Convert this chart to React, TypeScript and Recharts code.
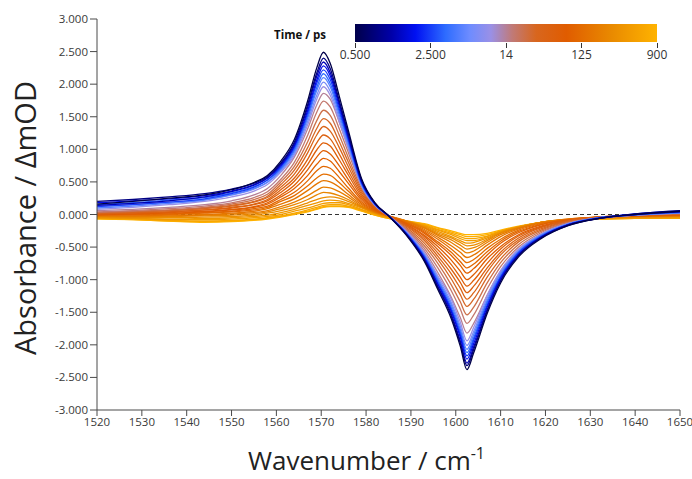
import React from "react";
import { LineChart, Line, XAxis, YAxis, ReferenceLine } from "recharts";

// wavenumber grid, cm-1
const wavenumbers = [
  1520, 1528, 1536, 1544, 1550, 1555, 1558, 1561, 1564, 1567, 1569, 1570.5, 1572, 1574, 1576, 1579, 1582,
  1585, 1589, 1593, 1596, 1599, 1601, 1602.5, 1604, 1607, 1610, 1614, 1619, 1625, 1632, 1640, 1650,
];

// pump-probe delays, ps
const delays = [0.5, 0.8, 1.2, 1.7, 2.5, 3.5, 5, 7, 10, 14, 18, 24, 32, 40, 50, 62, 75, 90, 110, 135, 165, 200, 250, 310, 390, 480, 600, 750, 900];

// difference spectra (mOD), one per delay
const ps0_5 = [0.16, 0.2, 0.25, 0.3, 0.38, 0.49, 0.6, 0.82, 1.15, 1.75, 2.25, 2.49, 2.32, 1.82, 1.3, 0.55, 0.18, -0.02, -0.32, -0.72, -1.15, -1.6, -2.02, -2.38, -2.12, -1.52, -1.05, -0.65, -0.37, -0.17, -0.06, 0.0, 0.05];
const ps0_8 = [0.2, 0.23, 0.27, 0.32, 0.39, 0.48, 0.58, 0.79, 1.11, 1.69, 2.17, 2.4, 2.24, 1.75, 1.25, 0.53, 0.17, -0.02, -0.31, -0.7, -1.12, -1.56, -1.97, -2.32, -2.07, -1.48, -1.02, -0.63, -0.36, -0.17, -0.06, 0.01, 0.06];
const ps1_2 = [0.14, 0.17, 0.21, 0.27, 0.35, 0.45, 0.56, 0.77, 1.08, 1.65, 2.12, 2.34, 2.18, 1.71, 1.22, 0.52, 0.17, -0.02, -0.31, -0.69, -1.1, -1.53, -1.94, -2.28, -2.03, -1.46, -1.01, -0.62, -0.35, -0.16, -0.06, 0.0, 0.04];
const ps1_7 = [0.18, 0.21, 0.24, 0.29, 0.36, 0.46, 0.56, 0.75, 1.05, 1.6, 2.06, 2.28, 2.13, 1.67, 1.19, 0.5, 0.16, -0.02, -0.3, -0.67, -1.07, -1.49, -1.88, -2.22, -1.98, -1.42, -0.98, -0.61, -0.35, -0.16, -0.06, 0.01, 0.05];
const ps2_5 = [0.12, 0.15, 0.19, 0.24, 0.32, 0.42, 0.53, 0.73, 1.03, 1.56, 2.01, 2.22, 2.07, 1.62, 1.16, 0.49, 0.16, -0.02, -0.29, -0.66, -1.05, -1.46, -1.84, -2.17, -1.93, -1.39, -0.96, -0.59, -0.34, -0.16, -0.05, 0.0, 0.04];
const ps3_5 = [0.15, 0.18, 0.22, 0.26, 0.33, 0.43, 0.53, 0.71, 1.0, 1.52, 1.95, 2.16, 2.01, 1.58, 1.13, 0.48, 0.16, -0.02, -0.29, -0.64, -1.02, -1.43, -1.8, -2.12, -1.89, -1.35, -0.94, -0.58, -0.33, -0.15, -0.05, 0.0, 0.03];
const ps5 = [0.1, 0.13, 0.17, 0.22, 0.3, 0.4, 0.5, 0.69, 0.97, 1.48, 1.9, 2.1, 1.96, 1.53, 1.1, 0.46, 0.15, -0.02, -0.28, -0.63, -1.0, -1.39, -1.76, -2.07, -1.84, -1.32, -0.91, -0.57, -0.32, -0.15, -0.05, -0.01, 0.03];
const ps7 = [0.13, 0.15, 0.19, 0.23, 0.3, 0.39, 0.49, 0.67, 0.94, 1.43, 1.83, 2.03, 1.89, 1.48, 1.06, 0.45, 0.15, -0.02, -0.27, -0.61, -0.97, -1.35, -1.71, -2.01, -1.79, -1.28, -0.89, -0.55, -0.31, -0.14, -0.05, 0.0, 0.02];
const ps10 = [0.08, 0.11, 0.15, 0.2, 0.27, 0.36, 0.46, 0.65, 0.91, 1.38, 1.77, 1.96, 1.83, 1.43, 1.02, 0.43, 0.14, -0.02, -0.26, -0.59, -0.94, -1.3, -1.65, -1.94, -1.73, -1.24, -0.86, -0.53, -0.3, -0.14, -0.05, -0.01, 0.02];
const ps14 = [0.06, 0.08, 0.11, 0.15, 0.21, 0.3, 0.4, 0.6, 0.88, 1.32, 1.68, 1.86, 1.77, 1.42, 1.03, 0.47, 0.15, -0.02, -0.25, -0.56, -0.89, -1.27, -1.58, -1.82, -1.67, -1.24, -0.87, -0.55, -0.31, -0.15, -0.06, -0.01, 0.02];
const ps18 = [0.04, 0.06, 0.09, 0.13, 0.18, 0.26, 0.35, 0.54, 0.8, 1.22, 1.57, 1.74, 1.65, 1.32, 0.96, 0.44, 0.14, -0.02, -0.23, -0.52, -0.82, -1.17, -1.45, -1.67, -1.54, -1.14, -0.8, -0.5, -0.28, -0.13, -0.05, -0.01, 0.02];
const ps24 = [0.03, 0.05, 0.07, 0.11, 0.16, 0.23, 0.31, 0.5, 0.74, 1.12, 1.44, 1.6, 1.52, 1.22, 0.88, 0.4, 0.13, -0.02, -0.22, -0.48, -0.75, -1.08, -1.34, -1.54, -1.42, -1.05, -0.74, -0.46, -0.26, -0.12, -0.05, -0.01, 0.01];
const ps32 = [0.02, 0.04, 0.06, 0.1, 0.14, 0.2, 0.28, 0.46, 0.68, 1.03, 1.32, 1.47, 1.4, 1.12, 0.81, 0.37, 0.12, -0.02, -0.2, -0.44, -0.69, -0.99, -1.23, -1.41, -1.3, -0.96, -0.68, -0.42, -0.24, -0.11, -0.04, -0.01, 0.01];
const ps40 = [0.03, 0.04, 0.06, 0.09, 0.13, 0.19, 0.26, 0.42, 0.62, 0.95, 1.22, 1.35, 1.28, 1.03, 0.74, 0.34, 0.11, -0.02, -0.18, -0.4, -0.64, -0.91, -1.13, -1.3, -1.2, -0.88, -0.62, -0.39, -0.22, -0.1, -0.04, -0.01, 0.01];
const ps50 = [0.01, 0.02, 0.04, 0.07, 0.11, 0.16, 0.23, 0.38, 0.56, 0.85, 1.1, 1.22, 1.16, 0.93, 0.67, 0.31, 0.1, -0.02, -0.17, -0.37, -0.59, -0.84, -1.04, -1.2, -1.1, -0.82, -0.58, -0.36, -0.2, -0.1, -0.04, -0.01, 0.01];
const ps62 = [0.02, 0.03, 0.04, 0.07, 0.1, 0.15, 0.21, 0.34, 0.51, 0.77, 0.99, 1.1, 1.05, 0.84, 0.61, 0.28, 0.09, -0.02, -0.16, -0.34, -0.54, -0.77, -0.96, -1.1, -1.01, -0.75, -0.53, -0.33, -0.19, -0.09, -0.04, -0.01, 0.0];
const ps75 = [0.0, 0.01, 0.03, 0.05, 0.08, 0.12, 0.18, 0.3, 0.45, 0.69, 0.88, 0.98, 0.93, 0.75, 0.54, 0.25, 0.08, -0.02, -0.15, -0.32, -0.49, -0.7, -0.87, -1.0, -0.92, -0.68, -0.49, -0.31, -0.18, -0.09, -0.04, -0.02, 0.0];
const ps90 = [0.01, 0.01, 0.02, 0.04, 0.07, 0.11, 0.16, 0.27, 0.4, 0.6, 0.77, 0.86, 0.82, 0.66, 0.48, 0.22, 0.07, -0.02, -0.14, -0.29, -0.45, -0.63, -0.78, -0.9, -0.83, -0.62, -0.44, -0.28, -0.16, -0.08, -0.04, -0.02, 0.0];
const ps110 = [-0.01, 0.0, 0.01, 0.03, 0.05, 0.09, 0.13, 0.23, 0.34, 0.52, 0.67, 0.74, 0.71, 0.57, 0.41, 0.19, 0.06, -0.02, -0.13, -0.27, -0.42, -0.58, -0.72, -0.82, -0.76, -0.57, -0.41, -0.26, -0.15, -0.08, -0.04, -0.02, -0.01];
const ps135 = [-0.01, -0.01, 0.0, 0.02, 0.04, 0.07, 0.11, 0.2, 0.29, 0.44, 0.56, 0.62, 0.6, 0.49, 0.36, 0.17, 0.05, -0.02, -0.12, -0.25, -0.38, -0.53, -0.65, -0.74, -0.69, -0.52, -0.38, -0.24, -0.14, -0.08, -0.04, -0.02, -0.01];
const ps165 = [-0.02, -0.02, -0.01, 0.0, 0.02, 0.05, 0.09, 0.16, 0.24, 0.37, 0.47, 0.52, 0.5, 0.42, 0.31, 0.15, 0.04, -0.02, -0.11, -0.23, -0.35, -0.48, -0.58, -0.66, -0.62, -0.47, -0.34, -0.22, -0.13, -0.07, -0.04, -0.03, -0.02];
const ps200 = [-0.02, -0.03, -0.02, -0.01, 0.01, 0.03, 0.06, 0.12, 0.19, 0.29, 0.37, 0.42, 0.41, 0.35, 0.27, 0.13, 0.04, -0.02, -0.1, -0.21, -0.32, -0.43, -0.52, -0.59, -0.56, -0.43, -0.31, -0.21, -0.12, -0.07, -0.04, -0.03, -0.02];
const ps250 = [-0.03, -0.04, -0.03, -0.02, -0.01, 0.01, 0.04, 0.09, 0.15, 0.23, 0.3, 0.34, 0.33, 0.29, 0.23, 0.12, 0.03, -0.03, -0.1, -0.2, -0.3, -0.39, -0.47, -0.53, -0.51, -0.4, -0.29, -0.2, -0.12, -0.07, -0.05, -0.03, -0.03];
const ps310 = [-0.04, -0.05, -0.05, -0.04, -0.03, -0.01, 0.02, 0.06, 0.11, 0.18, 0.23, 0.26, 0.27, 0.25, 0.2, 0.11, 0.03, -0.03, -0.1, -0.19, -0.28, -0.36, -0.43, -0.48, -0.47, -0.38, -0.28, -0.2, -0.12, -0.08, -0.05, -0.04, -0.03];
const ps390 = [-0.05, -0.06, -0.07, -0.06, -0.05, -0.03, -0.01, 0.03, 0.08, 0.14, 0.18, 0.21, 0.22, 0.21, 0.17, 0.1, 0.02, -0.04, -0.1, -0.18, -0.26, -0.34, -0.4, -0.44, -0.43, -0.36, -0.27, -0.19, -0.12, -0.08, -0.06, -0.05, -0.04];
const ps480 = [-0.05, -0.06, -0.08, -0.08, -0.07, -0.05, -0.03, 0.0, 0.05, 0.1, 0.14, 0.17, 0.18, 0.18, 0.15, 0.08, 0.01, -0.05, -0.1, -0.17, -0.24, -0.31, -0.37, -0.4, -0.4, -0.34, -0.26, -0.19, -0.12, -0.08, -0.06, -0.05, -0.05];
const ps600 = [-0.06, -0.07, -0.09, -0.1, -0.09, -0.07, -0.05, -0.02, 0.02, 0.07, 0.11, 0.14, 0.15, 0.15, 0.13, 0.07, 0.0, -0.05, -0.1, -0.16, -0.23, -0.29, -0.34, -0.37, -0.37, -0.33, -0.26, -0.19, -0.12, -0.09, -0.07, -0.06, -0.05];
const ps750 = [-0.06, -0.08, -0.1, -0.11, -0.1, -0.08, -0.06, -0.03, 0.01, 0.05, 0.09, 0.12, 0.13, 0.13, 0.12, 0.06, -0.01, -0.06, -0.1, -0.15, -0.21, -0.27, -0.31, -0.34, -0.34, -0.31, -0.25, -0.19, -0.12, -0.09, -0.07, -0.06, -0.06];
const ps900 = [-0.07, -0.08, -0.1, -0.12, -0.11, -0.09, -0.07, -0.04, 0.0, 0.04, 0.08, 0.11, 0.12, 0.12, 0.11, 0.05, -0.01, -0.06, -0.1, -0.14, -0.2, -0.25, -0.29, -0.31, -0.31, -0.29, -0.24, -0.18, -0.12, -0.09, -0.07, -0.06, -0.06];

const spectra = [
  ps0_5, ps0_8, ps1_2, ps1_7, ps2_5, ps3_5, ps5, ps7, ps10, ps14, ps18, ps24, ps32, ps40, ps50,
  ps62, ps75, ps90, ps110, ps135, ps165, ps200, ps250, ps310, ps390, ps480, ps600, ps750, ps900,
];

const xTicks = [1520, 1530, 1540, 1550, 1560, 1570, 1580, 1590, 1600, 1610, 1620, 1630, 1640, 1650];
const yTicks = [-3, -2.5, -2, -1.5, -1, -0.5, 0, 0.5, 1, 1.5, 2, 2.5, 3];
const barTicks = [0.5, 2.5, 14, 125, 900];
const barLabels = ["0.500", "2.500", "14", "125", "900"];

// colour map of the time bar
const STOPS: [number, string][] = [
  [0, "#00004a"],
  [0.12, "#0000a8"],
  [0.2, "#0010f2"],
  [0.3, "#2e6cff"],
  [0.38, "#6e8cff"],
  [0.45, "#9a90e6"],
  [0.52, "#c07a78"],
  [0.6, "#d8661e"],
  [0.7, "#e05c00"],
  [0.85, "#e98a00"],
  [1, "#ffb300"],
];

const hex = (s: string) => [1, 3, 5].map((i) => parseInt(s.slice(i, i + 2), 16));

function colourAt(f: number) {
  for (let i = 1; i < STOPS.length; i++) {
    const [p1, c1] = STOPS[i];
    const [p0, c0] = STOPS[i - 1];
    if (f <= p1) {
      const t = (f - p0) / (p1 - p0);
      const a = hex(c0);
      const b = hex(c1);
      return `rgb(${a.map((v, k) => Math.round(v + (b[k] - v) * t)).join(",")})`;
    }
  }
  return STOPS[STOPS.length - 1][1];
}

// position of a delay on the bar (ticks equally spaced, log between them)
function barPos(t: number) {
  for (let i = 1; i < barTicks.length; i++) {
    if (t <= barTicks[i]) {
      const f = Math.log(t / barTicks[i - 1]) / Math.log(barTicks[i] / barTicks[i - 1]);
      return (i - 1 + f) / (barTicks.length - 1);
    }
  }
  return 1;
}

const rows = wavenumbers.map((wn, i) => {
  const row: Record<string, number> = { wn };
  spectra.forEach((s, k) => {
    row[`c${k}`] = s[i];
  });
  return row;
});

const FONT = "'Open Sans', 'DejaVu Sans', sans-serif";
const AXIS = "#4a4a4a";

const BAR_X = 355;
const BAR_W = 302;

const XTitle = (props: any) => {
  const vb = props.viewBox || { x: 97, y: 410, width: 583, height: 60 };
  const cx = vb.x + vb.width / 2 - 22;
  return (
    <text x={cx} y={vb.y + 60} textAnchor="middle" fontSize={26} fill="#222" fontFamily={FONT}>
      <tspan>Wavenumber / cm</tspan>
      <tspan dy={-11} fontSize={16}>-1</tspan>
    </text>
  );
};

const YTitle = () => (
  <text x={0} y={0} transform="translate(36 218) rotate(-90)" textAnchor="middle" fontSize={29} fill="#222" fontFamily={FONT}>
    Absorbance / ΔmOD
  </text>
);

export default function App() {
  const order = spectra.map((_, k) => k).reverse();
  const gradient = STOPS.map(([p, c]) => `${c} ${p * 100}%`).join(", ");

  return (
    <div style={{ position: "absolute", left: 0, top: 0, width: 692, height: 479, background: "#fff", fontFamily: FONT }}>
      <LineChart width={692} height={479} data={rows} margin={{ top: 19, right: 12, bottom: 9, left: 0 }}>
        <XAxis
          dataKey="wn"
          type="number"
          domain={[1520, 1650]}
          ticks={xTicks}
          allowDataOverflow
          interval={0}
          height={60}
          stroke={AXIS}
          tickSize={6}
          tickMargin={2}
          tick={{ fontSize: 11.5, fill: "#3a3a3a", fontFamily: FONT }}
          label={<XTitle />}
        />
        <XAxis xAxisId="top" dataKey="wn" type="number" domain={[1520, 1650]} orientation="top" height={0} tick={false} tickLine={false} stroke={AXIS} />
        <YAxis
          type="number"
          domain={[-3, 3]}
          ticks={yTicks}
          interval={0}
          width={97}
          stroke={AXIS}
          tickSize={7}
          tickMargin={2}
          tickFormatter={(v: number) => v.toFixed(3)}
          tick={{ fontSize: 11.5, fill: "#3a3a3a", fontFamily: FONT }}
          label={<YTitle />}
        />
        <YAxis yAxisId="right" orientation="right" domain={[-3, 3]} width={0} tick={false} tickLine={false} stroke={AXIS} />
        <ReferenceLine y={0} stroke="#333" strokeDasharray="4 3" strokeWidth={1.2} />
        {order.map((k) => (
          <Line
            key={k}
            dataKey={`c${k}`}
            type="monotone"
            dot={false}
            stroke={colourAt(barPos(delays[k]))}
            strokeWidth={1.3}
            isAnimationActive={false}
          />
        ))}
      </LineChart>

      {/* time colour bar */}
      <div style={{ position: "absolute", left: 274, top: 27, fontSize: 11.5, fontWeight: 700, color: "#111" }}>Time / ps</div>
      <div style={{ position: "absolute", left: BAR_X, top: 24, width: BAR_W, height: 18, background: `linear-gradient(to right, ${gradient})` }} />
      {barLabels.map((lab, i) => {
        const x = BAR_X + (BAR_W * i) / (barLabels.length - 1);
        return (
          <React.Fragment key={lab}>
            <div style={{ position: "absolute", left: x - 0.5, top: 43, width: 1, height: 5, background: "#333" }} />
            <div style={{ position: "absolute", left: x - 30, top: 46, width: 60, textAlign: "center", fontSize: 12, color: "#333" }}>{lab}</div>
          </React.Fragment>
        );
      })}
    </div>
  );
}
